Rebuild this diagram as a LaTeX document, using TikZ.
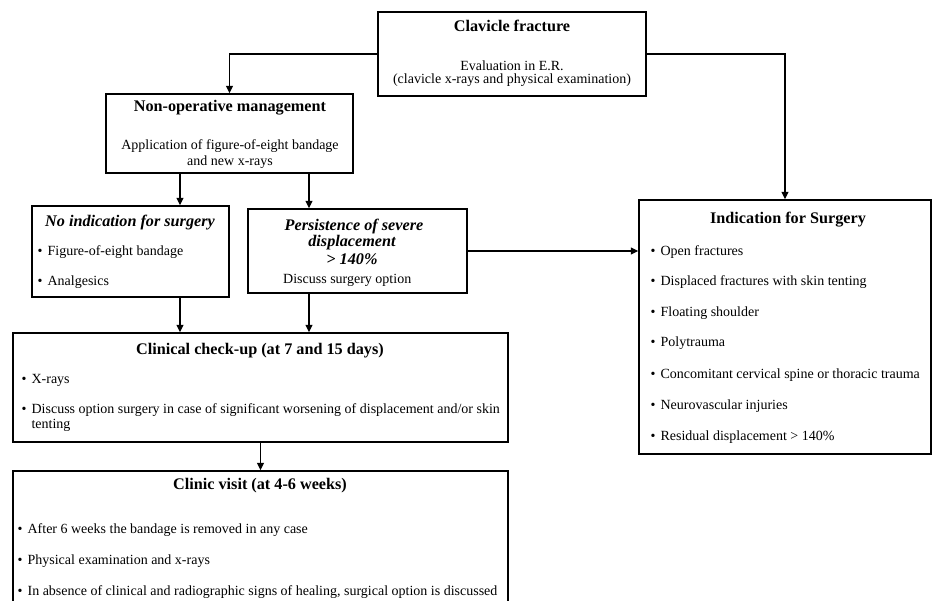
\documentclass[tikz,border=0pt]{standalone}
\usepackage{fontspec}
\setmainfont{Liberation Serif}
\usetikzlibrary{arrows.meta}
\tikzset{
 box/.style={draw, line width=1.4pt, inner sep=0pt, rectangle},
 arr/.style={line width=1.3pt, -{Triangle[length=7.5pt,width=7pt]}},
 ttl/.style={font=\fontsize{16.2}{18}\selectfont\bfseries, inner sep=0pt, anchor=mid, yshift=-1.5pt},
 ttli/.style={font=\fontsize{16.2}{18}\selectfont\bfseries\itshape, inner sep=0pt, anchor=mid, yshift=-1.5pt},
 txt/.style={font=\fontsize{14}{15}\selectfont, inner sep=0pt, anchor=mid, yshift=-1.5pt},
 itm/.style={font=\fontsize{14}{15}\selectfont, inner sep=0pt, anchor=mid west, yshift=-1.5pt},
}
\newcommand\mkbox[5]{\node[box, minimum width={#4pt-#2pt}, minimum height={#5pt-#3pt}] (#1) at ({(#2+#4)/2},{(#3+#5)/2}) {};}
\newcommand\bt{\textbullet\hspace{5pt}}
\begin{document}
\begin{tikzpicture}[x=1pt,y=-1pt]
\useasboundingbox (0,0) rectangle (932,601);
\fill[white] (0,0) rectangle (932,601);
\mkbox{top}{378}{12}{646}{96}
\mkbox{nonop}{106}{94}{353}{173}
\mkbox{noind}{32}{206}{229}{297}
\mkbox{pers}{248}{209}{467}{293}
\mkbox{ind}{639}{200}{931}{454}
\mkbox{clin}{13}{333}{508}{442}
\mkbox{visit}{13}{471}{508}{603}
\coordinate (c1) at (180,0);
\coordinate (c2) at (309,0);
% texts
\node[ttl] (t1) at (512,28) {Clavicle fracture};
\node[txt] (t2) at (512,67) {Evaluation in E.R.};
\node[txt] (t3) at (512,80) {(clavicle x-rays and physical examination)};
\node[ttl] (n1) at (230,108) {Non-operative management};
\node[txt] (n2) at (230,146) {Application of figure-of-eight bandage};
\node[txt] (n3) at (230,162) {and new x-rays};
\node[ttli] (a1) at (130,223) {No indication for surgery};
\node[itm] (a2) at (37.5,252) {\bt Figure-of-eight bandage};
\node[itm] (a3) at (37.5,282) {\bt Analgesics};
\node[ttli] (p1) at (354,227) {Persistence of severe};
\node[ttli] (p2) at (352,243) {displacement};
\node[ttli] (p3) at (352,261) {> 140\%};
\node[itm] (p4) at (283,280) {Discuss surgery option};
\node[ttl] (i0) at (788,220) {Indication for Surgery};
\node[itm] (i1) at (650.5,252) {\bt Open fractures};
\node[itm] (i2) at (650.5,282) {\bt Displaced fractures with skin tenting};
\node[itm] (i3) at (650.5,313) {\bt Floating shoulder};
\node[itm] (i4) at (650.5,343) {\bt Polytrauma};
\node[itm] (i5) at (650.5,375) {\bt Concomitant cervical spine or thoracic trauma};
\node[itm] (i6) at (650.5,406) {\bt Neurovascular injuries};
\node[itm] (i7) at (650.5,437) {\bt Residual displacement > 140\%};
\node[ttl] (c0) at (260,351) {Clinical check-up (at 7 and 15 days)};
\node[itm] (cl1) at (21.5,380) {\bt X-rays};
\node[itm] (cl2) at (21.5,410) {\bt Discuss option surgery in case of significant worsening of displacement and/or skin};
\node[itm] (cl3) at (21.5,425) {\phantom{\bt}tenting};
\node[ttl] (v0) at (260,486) {Clinic visit (at 4-6 weeks)};
\node[itm] (v1) at (17.5,530) {\bt After 6 weeks the bandage is removed in any case};
\node[itm] (v2) at (17.5,561) {\bt Physical examination and x-rays};
\node[itm] (v3) at (17.5,592) {\bt In absence of clinical and radiographic signs of healing, surgical option is discussed};
% connectors
\draw[arr] (top.west) -| (nonop.north);
\draw[arr] (top.east) -| (ind.north);
\draw[arr] (nonop.south -| c1) -- (noind.north -| c1);
\draw[arr] (nonop.south -| c2) -- (pers.north -| c2);
\draw[arr] (noind.south -| c1) -- (clin.north -| c1);
\draw[arr] (pers.south -| c2) -- (clin.north -| c2);
\draw[arr] (pers.east) -- (pers.east -| ind.west);
\draw[arr] (clin.south) -- (visit.north);
\end{tikzpicture}
\end{document}
